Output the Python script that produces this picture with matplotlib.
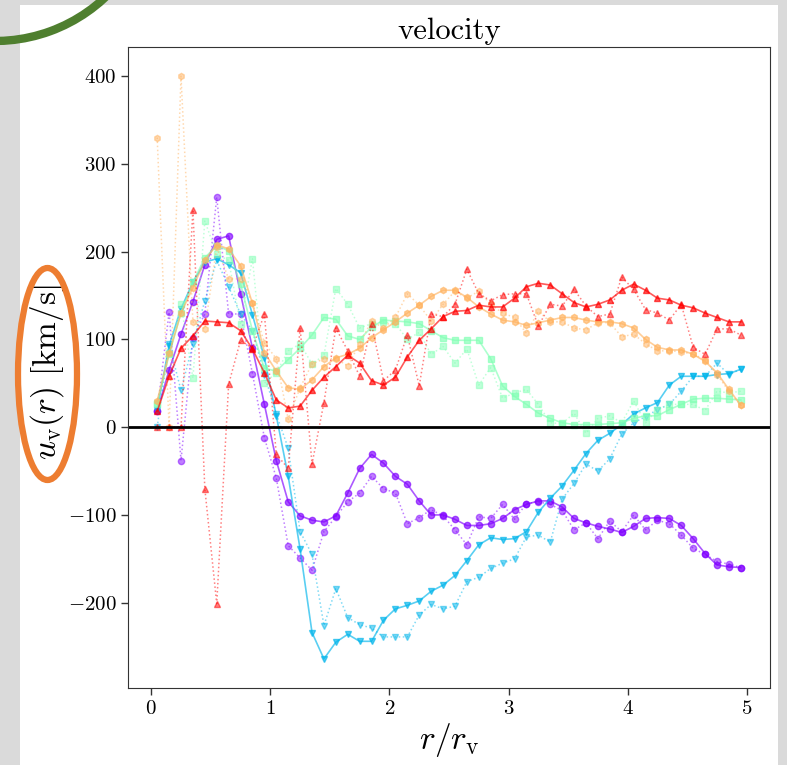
import numpy as np
import matplotlib.pyplot as plt
from matplotlib.patches import Rectangle, Ellipse, Arc

plt.rcParams['mathtext.fontset'] = 'cm'
plt.rcParams['axes.formatter.use_mathtext'] = True
plt.rcParams['font.family'] = 'serif'
plt.rcParams['font.serif'] = ['cmr10', 'DejaVu Serif']
plt.rcParams['axes.unicode_minus'] = True

# radial bin centres, r / r_v
r = np.round(np.arange(0.05, 5.0, 0.1), 2)

# raw profiles (dotted) and smoothed profiles (solid), km/s
purple_raw = [18, 131, -38, 102, 129, 262, 129, 129, 61, -12,
              -58, -135, -149, -163, -119, -102, -85, -75, -56, -70,
              -75, -110, -103, -94, -101, -117, -134, -102, -104, -88,
              -105, -87, -85, -88, -95, -117, -109, -127, -107, -119,
              -100, -117, -106, -110, -123, -138, -145, -153, -156, -160]
purple_smooth = [18, 65, 106, 143, 185, 214, 218, 152, 90, 26,
                 -38, -85, -101, -106, -108, -101, -75, -47, -31, -41,
                 -56, -65, -84, -100, -100, -105, -112, -112, -110, -104,
                 -94, -88, -84, -84, -91, -104, -109, -113, -116, -120,
                 -113, -104, -103, -104, -112, -127, -144, -157, -159, -160]

blue_raw = [0, 95, 42, 95, 144, 190, 160, 129, 110, 60,
            15, -24, -119, -145, -226, -184, -217, -225, -229, -239,
            -239, -239, -214, -202, -207, -204, -176, -171, -161, -155,
            -150, -125, -123, -131, -82, -64, -42, -50, -36, -8,
            5, 12, 20, 26, 41, 58, 58, 73, 60, 66]
blue_smooth = [20, 93, 135, 165, 188, 192, 185, 176, 128, 79,
               13, -56, -139, -234, -264, -245, -236, -244, -244, -220,
               -207, -203, -198, -187, -180, -169, -152, -134, -126, -128,
               -127, -119, -97, -81, -67, -49, -30, -15, -7, 3,
               15, 22, 28, 48, 58, 58, 58, 60, 61, 66]

green_raw = [28, 85, 140, 56, 235, 197, 190, 117, 192, 50,
             62, 87, 95, 72, 82, 158, 140, 113, 118, 120,
             118, 100, 108, 83, 92, 73, 89, 48, 68, 33,
             39, 43, 26, 5, 4, 16, -7, 10, 13, 5,
             30, 5, 20, 26, 26, 26, 19, 41, 39, 41]
green_smooth = [26, 83, 130, 165, 193, 207, 201, 163, 110, 67,
                64, 77, 90, 105, 125, 123, 104, 100, 114, 122,
                121, 120, 118, 110, 102, 99, 99, 99, 78, 47,
                35, 26, 16, 10, 5, 3, 3, 3, 4, 5,
                10, 13, 13, 20, 26, 32, 33, 33, 32, 31]

orange_raw = [330, 0, 400, 120, 112, 205, 169, 169, 142, 96,
              78, 9, 45, 72, 78, 78, 70, 95, 121, 113,
              125, 152, 139, 121, 140, 155, 147, 155, 140, 130,
              125, 107, 132, 120, 120, 113, 111, 119, 119, 103,
              106, 95, 87, 87, 86, 83, 77, 60, 41, 25]
orange_smooth = [30, 84, 130, 159, 190, 208, 203, 184, 141, 85,
                 64, 45, 43, 54, 69, 79, 83, 90, 102, 111,
                 120, 130, 139, 149, 156, 156, 148, 137, 129, 122,
                 120, 116, 119, 122, 125, 125, 122, 120, 120, 118,
                 113, 100, 91, 88, 88, 83, 75, 62, 43, 25]

red_raw = [0, 0, 0, 248, -70, -201, 49, 99, 90, 129,
           -31, -47, 113, -42, 28, 113, 87, 58, 117, 53,
           65, 105, 47, 129, 126, 140, 180, 152, 144, 151,
           152, 152, 115, 140, 138, 157, 138, 126, 129, 171,
           157, 134, 130, 122, 140, 91, 83, 112, 112, 105]
red_smooth = [18, 58, 90, 104, 121, 120, 119, 110, 89, 62,
              31, 22, 24, 42, 57, 69, 82, 73, 53, 48,
              57, 80, 99, 112, 126, 132, 133, 139, 137, 137,
              147, 160, 164, 162, 152, 142, 137, 140, 145, 156,
              163, 156, 147, 145, 139, 136, 130, 125, 120, 120]

raw = [purple_raw, blue_raw, green_raw, orange_raw, red_raw]
smooth = [purple_smooth, blue_smooth, green_smooth, orange_smooth, red_smooth]
markers = ['o', 'v', 's', 'h', '^']
colors = plt.cm.rainbow(np.linspace(0, 1, 5))

W, H = 787, 765
fig = plt.figure(figsize=(W / 100, H / 100), dpi=100, facecolor='#dadada')
fig.patches.append(Rectangle((20 / W, 0), 758 / W, 1 - 5 / H, transform=fig.transFigure,
                             facecolor='white', edgecolor='none', zorder=-5))

ax = fig.add_axes([128 / W, 1 - 688 / H, 642 / W, 641 / H])
for c, m, yr, ys in zip(colors, markers, raw, smooth):
    ax.plot(r, yr, ls=':', color=c, marker=m, ms=4.5, lw=1.1, alpha=0.5)
    ax.plot(r, ys, ls='-', color=c, marker=m, ms=4.5, lw=1.2, alpha=0.65)
ax.axhline(0, color='k', lw=2)

ax.set_xticks(range(6))
ax.set_yticks(range(-200, 401, 100))
ax.tick_params(labelsize=15, length=5, width=1, color='#333333')
for s in ax.spines.values():
    s.set_color('#333333')
ax.set_title('velocity', fontsize=22, pad=6)

fig.text(449 / W, 1 - 740 / H, r'$r/r_{\rm v}$', ha='center', va='center', fontsize=24)
fig.text(47 / W, 1 - 372 / H, r'$u_{\rm v}(r)\ [{\rm km/s}]$', rotation=90,
         ha='center', va='center', fontsize=24)

# annotation marks drawn over the figure in pixel units
ov = fig.add_axes([0, 0, 1, 1], zorder=5)
ov.set_xlim(0, W)
ov.set_ylim(H, 0)
ov.axis('off')
ov.patch.set_alpha(0)
ov.add_patch(Ellipse((47.5, 374), 59, 212, fill=False, ec='#ed7d31', lw=4.5))
ov.add_patch(Arc((-5, -120), 322, 322, theta1=40, theta2=100, ec='#4f7f2f', lw=6))

fig.savefig('out.png', dpi=100, facecolor=fig.get_facecolor())
